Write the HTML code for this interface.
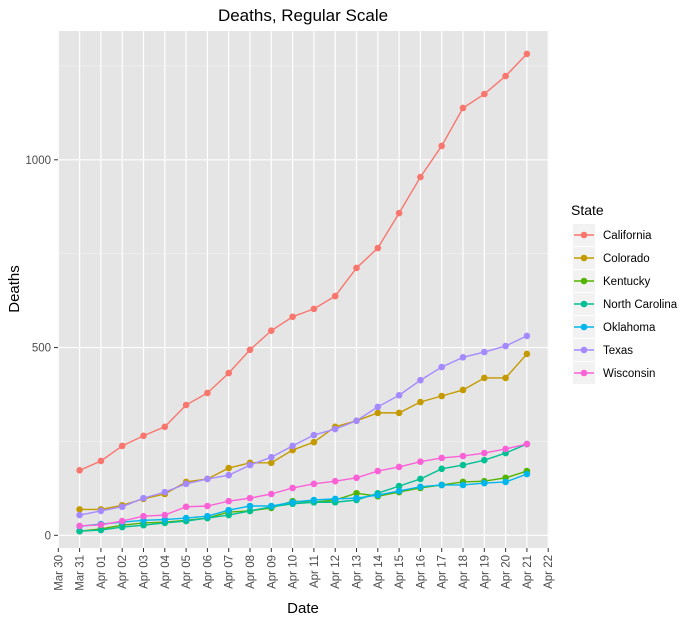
<!DOCTYPE html>
<html><head><meta charset="utf-8"><style>
body{margin:0;background:#fff;font-family:"Liberation Sans",sans-serif;}
svg text{font-family:"Liberation Sans",sans-serif;}
</style></head><body>
<svg id="chart" width="693" height="623" xmlns="http://www.w3.org/2000/svg">
<text x="303" y="21" font-size="17" text-anchor="middle" fill="#000">Deaths, Regular Scale</text>
<rect x="58" y="31" width="491" height="517" fill="#e5e5e5"/>
<g id="grid"></g>
<g id="axes"></g>
<g id="series"></g>
<text x="303" y="613" font-size="15" text-anchor="middle">Date</text>
<text transform="translate(19,289) rotate(-90)" font-size="15" text-anchor="middle">Deaths</text>
<g id="legend"></g>
</svg>
<script>
const dates=["Mar 31","Apr 01","Apr 02","Apr 03","Apr 04","Apr 05","Apr 06","Apr 07","Apr 08","Apr 09","Apr 10","Apr 11","Apr 12","Apr 13","Apr 14","Apr 15","Apr 16","Apr 17","Apr 18","Apr 19","Apr 20","Apr 21"];
const tickLabels=["Mar 30","Mar 31","Apr 01","Apr 02","Apr 03","Apr 04","Apr 05","Apr 06","Apr 07","Apr 08","Apr 09","Apr 10","Apr 11","Apr 12","Apr 13","Apr 14","Apr 15","Apr 16","Apr 17","Apr 18","Apr 19","Apr 20","Apr 21","Apr 22"];
const yTicks=[0,500,1000];
const yMinor=[250,750,1250];
const states=["California","Colorado","Kentucky","North Carolina","Oklahoma","Texas","Wisconsin"];
const colors=["#F8766D","#C49A00","#53B400","#00C094","#00B6EB","#A58AFF","#FB61D7"];
const california=[173,198,238,265,289,347,379,432,494,545,582,603,637,712,765,858,954,1037,1138,1175,1223,1282];
const colorado=[69,69,80,97,110,142,150,179,193,193,227,248,289,305,326,326,355,371,387,419,419,483];
const kentucky=[11,17,27,33,35,40,46,62,65,73,91,88,94,112,104,115,126,134,142,144,153,171];
const northCarolina=[11,14,22,27,33,38,46,54,65,76,84,88,88,94,112,131,150,177,187,200,219,243];
const oklahoma=[24,30,35,40,42,46,51,67,78,78,88,94,97,99,107,118,129,134,134,139,142,163];
const texas=[54,65,76,99,115,137,150,160,187,208,238,267,283,305,342,373,413,448,474,488,504,531];
const wisconsin=[25,28,38,51,54,76,78,91,99,110,126,137,144,153,171,182,196,206,211,219,230,243];
const seriesData=[california,colorado,kentucky,northCarolina,oklahoma,texas,wisconsin];

const NS="http://www.w3.org/2000/svg";
const x0=58.3, dx=21.3;
const xScale=i=>x0+dx*i;
const yScale=v=>535.3-v*0.3755;
function mk(tag,attrs,parent){const e=document.createElementNS(NS,tag);for(const k in attrs)e.setAttribute(k,attrs[k]);parent.appendChild(e);return e;}
const grid=document.getElementById('grid'),axes=document.getElementById('axes'),ser=document.getElementById('series'),leg=document.getElementById('legend');
yMinor.forEach(v=>{const l=mk('line',{x1:58,x2:549,y1:yScale(v),y2:yScale(v),stroke:'#f2f2f2','stroke-width':0.6},grid);

});
yTicks.forEach(v=>{const y=yScale(v);
const l=mk('line',{x1:58,x2:549,y1:y,y2:y,stroke:'#fff','stroke-width':1.2},grid);


const t=mk('line',{x1:54,x2:58,y1:y,y2:y,stroke:'#333','stroke-width':1},axes);


const tx=mk('text',{x:51,y:y+4,'font-size':11.5,'text-anchor':'end',fill:'#4d4d4d'},axes);tx.textContent=v;

});
tickLabels.forEach((lab,i)=>{const x=xScale(i);
const l=mk('line',{x1:x,x2:x,y1:31,y2:548,stroke:'#fff','stroke-width':1.2},grid);


const t=mk('line',{x1:x,x2:x,y1:548,y2:552,stroke:'#333','stroke-width':1},axes);


const tx=mk('text',{transform:`translate(${x+4},555) rotate(-90)`,'font-size':11.5,'text-anchor':'end',fill:'#4d4d4d'},axes);tx.textContent=lab;

});
seriesData.forEach((d,s)=>{
const g=mk('g',{},ser);


const pts=d.map((v,i)=>xScale(i+1)+','+yScale(v)).join(' ');
const pl=mk('polyline',{points:pts,fill:'none',stroke:colors[s],'stroke-width':1.4},g);


d.forEach((v,i)=>{const c=mk('circle',{cx:xScale(i+1),cy:yScale(v),r:3.3,fill:colors[s]},g);

});
});
const lt=mk('text',{x:571,y:215,'font-size':14,fill:'#000'},leg);lt.textContent='State';


states.forEach((st,i)=>{const yc=235+23*i;
const g=mk('g',{},leg);


mk('rect',{x:573,y:yc-11,width:22,height:22,fill:'#f2f2f2'},g);
mk('line',{x1:574,x2:594,y1:yc,y2:yc,stroke:colors[i],'stroke-width':1.4},g);
mk('circle',{cx:584,cy:yc,r:3.3,fill:colors[i]},g);
const t=mk('text',{x:603,y:yc+4,'font-size':11.5,fill:'#000'},g);t.textContent=st;});
</script>
</body></html>
